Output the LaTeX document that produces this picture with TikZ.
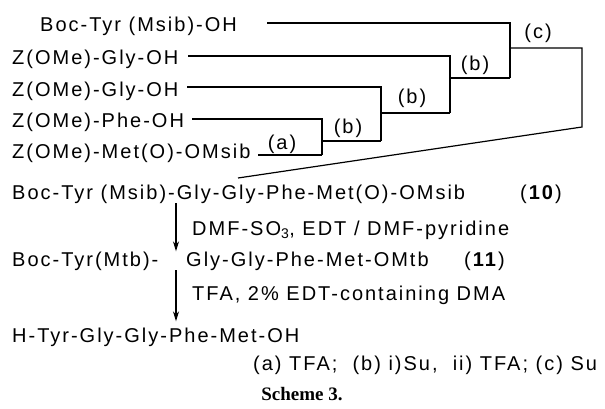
\documentclass[tikz,border=0pt]{standalone}
\usepackage{fontspec}
\setmainfont{Liberation Sans}[LetterSpace=10]
\newfontfamily\schemefont{Liberation Serif}
\usetikzlibrary{arrows.meta}
\begin{document}
\begin{tikzpicture}[x=1pt,y=-1pt,
  txt/.style={font=\fontsize{20}{24}\selectfont, inner sep=0pt, anchor=base west},
  lab/.style={font=\fontsize{20}{24}\selectfont, inner sep=0pt},
  conn/.style={line width=1.2pt, line join=miter},
  rxn/.style={line width=1.2pt, -{Stealth[length=10pt,width=6pt]}}]
\useasboundingbox (0,0) rectangle (605,409);
% starting materials
\node[txt] (t1) at (40,32) {Boc-Tyr (Msib)-OH};
\node[txt] (t2) at (12,65) {Z(OMe)-Gly-OH};
\node[txt] (t3) at (12,97) {Z(OMe)-Gly-OH};
\node[txt] (t4) at (12,128) {Z(OMe)-Phe-OH};
\node[txt] (t5) at (12,159) {Z(OMe)-Met(O)-OMsib};
% connector points
\coordinate (s1) at (267,23);
\coordinate (s2) at (188,56);
\coordinate (s3) at (187,87);
\coordinate (s4) at (192,119);
\coordinate (s5) at (258,155);
\coordinate (k1) at (510,23);
\coordinate (k2) at (450,56);
\coordinate (k3) at (381,87);
\coordinate (k4) at (322,119);
\coordinate (m1) at (510,78);
\coordinate (m2) at (450,113);
\coordinate (m3) at (381,141);
\coordinate (m4) at (322,155);
\coordinate (j4) at (322,141);
\coordinate (j3) at (381,113);
\coordinate (j2) at (450,78);
\coordinate (j1) at (510,48);
\coordinate (cR) at (582,48);
\coordinate (cB) at (582,127);
\coordinate (pe) at (238,178);
\draw[conn] (s1) -- (k1) -- (m1);
\draw[conn] (s2) -- (k2) -- (m2);
\draw[conn] (s3) -- (k3) -- (m3);
\draw[conn] (s4) -- (k4) -- (m4);
\draw[conn] (s5) -- (m4);
\draw[conn] (j4) -- (m3);
\draw[conn] (j3) -- (m2);
\draw[conn] (j2) -- (m1);
\draw[conn] (j1) -- (cR) -- (cB) -- (pe);
% step labels
\node[lab] (la) at (282,144) {(a)};
\node[lab] (lb1) at (348,128) {(b)};
\node[lab] (lb2) at (412,98) {(b)};
\node[lab] (lb3) at (475,65) {(b)};
\node[lab] (lc) at (538,33) {(c)};
% products
\node[txt] (p10) at (12,199) {Boc-Tyr (Msib)-Gly-Gly-Phe-Met(O)-OMsib};
\node[txt] (n10) at (520,199) {(\textbf{10})};
\node[txt] (r1) at (192,235) {DMF-SO\textsubscript{3}, EDT / DMF-pyridine};
\node[txt] (p11) at (12,266) {Boc-Tyr(Mtb)-};
\node[txt] (p11b) at (186,266) {Gly-Gly-Phe-Met-OMtb};
\node[txt] (n11) at (464,266) {(\textbf{11})};
\node[txt] (r2) at (192,300) {TFA, 2\% EDT-containing DMA};
\node[txt] (p12) at (12,342) {H-Tyr-Gly-Gly-Phe-Met-OH};
\node[txt] (fn) at (253,370) {(a) TFA; \ (b) i)Su, \ ii) TFA; (c) Su};
\node[font=\schemefont\bfseries\fontsize{19}{22}\selectfont, inner sep=0pt, anchor=base] (sc) at (302,400) {Scheme 3.};
% reaction arrows
\coordinate (ax) at (176,0);
\draw[rxn] (ax |- p10.south) -- (ax |- p11.north);
\draw[rxn, shorten >=6pt] (ax |- p11.south) -- (ax |- p12.north);
\end{tikzpicture}
\end{document}
